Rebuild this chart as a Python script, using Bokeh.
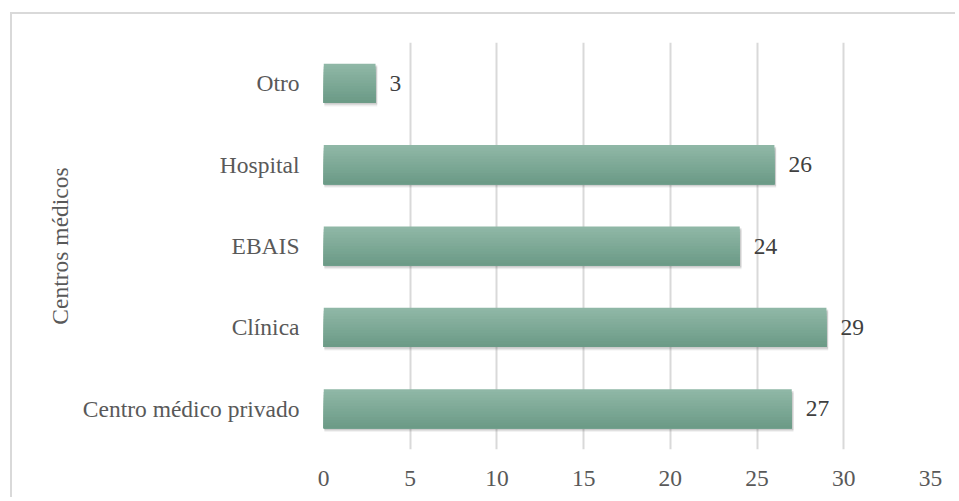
from bokeh.plotting import figure
from bokeh.models import Range1d, FactorRange, FixedTicker, ColumnDataSource
from bokeh.transform import dodge
from bokeh.embed import file_html
from bokeh.resources import INLINE
from bokeh.core.properties import value

categories = ["Centro médico privado", "Clínica", "EBAIS", "Hospital", "Otro"]
counts = [27, 29, 24, 26, 3]
x_ticks = [0, 5, 10, 15, 20, 25, 30, 35]
axis_title = "Centros médicos"

FONT = "Liberation Serif"
FS = "23.5px"
src = ColumnDataSource(dict(cat=categories, val=counts, lab=[str(v) for v in counts]))

p = figure(y_range=FactorRange(*categories, range_padding=0), x_range=Range1d(0, 35),
           width=945, height=485, output_backend="svg", toolbar_location=None,
           min_border_left=311, min_border_right=27, min_border_top=28, min_border_bottom=50)
p.styles = {"margin-left": "10px", "margin-top": "12px",
            "border-top": "2px solid #d9d9d9", "border-left": "2px solid #d9d9d9"}
p.outline_line_color = None
p.background_fill_color = "white"
p.border_fill_color = "white"

bh = 0.48
# soft shadow
for off, a in [(-0.045, 0.07), (-0.032, 0.10), (-0.02, 0.12)]:
    p.hbar(y=dodge("cat", off, range=p.y_range), right=dodge("val", 0.1), left=0.05,
           height=bh, source=src, fill_color="#404040", fill_alpha=a, line_color=None)

# gradient-like bar: layers anchored at the bar bottom, lightest (full) first
top_c = (0x8f, 0xb7, 0xa6)
bot_c = (0x6c, 0x9b, 0x87)
n = 14
sh = bh / n
for i in range(n):
    t = i / (n - 1)
    c = tuple(round(top_c[k] + (bot_c[k] - top_c[k]) * t) for k in range(3))
    h = bh - i * sh
    off = -bh / 2 + h / 2
    p.hbar(y=dodge("cat", off, range=p.y_range), right="val", left=0, height=h,
           source=src, fill_color="#%02x%02x%02x" % c, line_color=None)

p.text(x="val", y="cat", text="lab", source=src, x_offset=14, text_baseline="middle",
       text_align="left", text_font=value(FONT), text_font_size=FS, text_color="#404040")

p.xaxis.ticker = FixedTicker(ticks=x_ticks)
p.xaxis.axis_line_color = None
p.xaxis.major_tick_line_color = None
p.xaxis.minor_tick_line_color = None
p.xaxis.major_label_text_font = FONT
p.xaxis.major_label_text_font_size = FS
p.xaxis.major_label_text_color = "#595959"
p.xaxis.major_label_standoff = 15

p.yaxis.axis_line_color = None
p.yaxis.major_tick_line_color = None
p.yaxis.major_label_text_font = FONT
p.yaxis.major_label_text_font_size = FS
p.yaxis.major_label_text_color = "#595959"
p.yaxis.major_label_standoff = 18
p.yaxis.axis_label = axis_title
p.yaxis.axis_label_text_font = FONT
p.yaxis.axis_label_text_font_size = FS
p.yaxis.axis_label_text_font_style = "normal"
p.yaxis.axis_label_text_color = "#595959"
p.yaxis.axis_label_standoff = 7

p.xgrid.grid_line_color = "#d9d9d9"
p.xgrid.grid_line_width = 2
p.ygrid.grid_line_color = None

open("out.html", "w").write(file_html(p, INLINE))
